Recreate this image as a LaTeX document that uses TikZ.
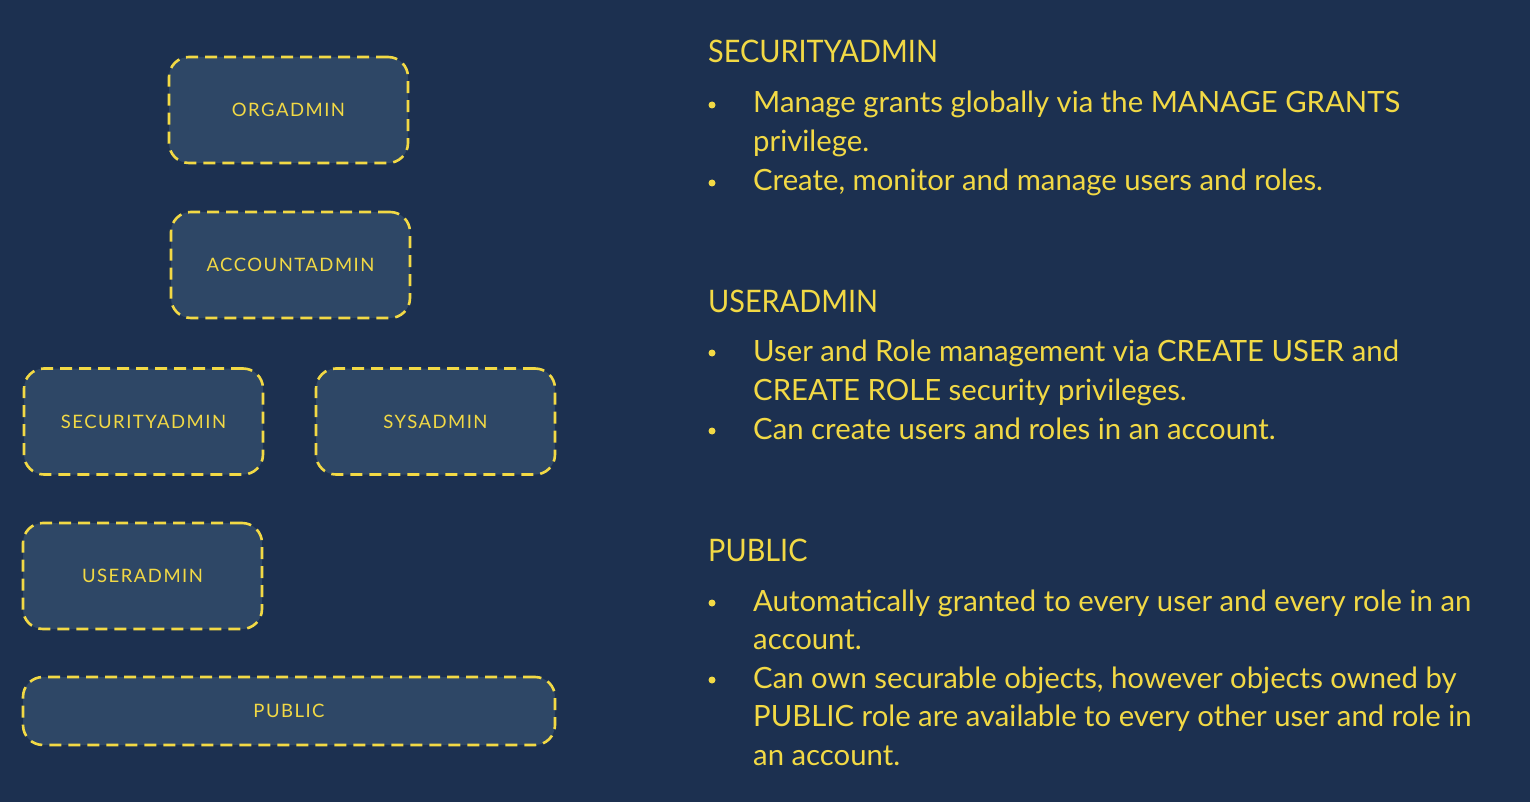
\documentclass[tikz,border=0pt]{standalone}
\usepackage{fontspec}
\newfontfamily\rtfont{Lato}
\newfontfamily\hdfont[FakeStretch=0.93]{Lato}
\newfontfamily\boxfont[LetterSpace=8]{Lato}
\definecolor{bg}{HTML}{1C3050}
\definecolor{boxfill}{HTML}{2E4766}
\definecolor{gold}{HTML}{F2D945}
\begin{document}
\begin{tikzpicture}[x=1pt,y=-1pt,
  role/.style={draw=gold, fill=boxfill, line width=2.6pt, rounded corners=20pt,
    dash pattern=on 12pt off 7pt, text=gold, font=\boxfont\fontsize{18.5}{22}\selectfont,
    minimum width=239pt, minimum height=106pt, inner sep=0pt},
  head/.style={anchor=base west, inner sep=0pt, text=gold, font=\hdfont\fontsize{31}{36}\selectfont},
  body/.style={anchor=base west, inner sep=0pt, text=gold, font=\rtfont\fontsize{29.3}{32}\selectfont},
  dot/.style={circle, fill=gold, inner sep=0pt, minimum size=7pt}]
\fill[bg] (0,0) rectangle (1530,802);
\useasboundingbox (0,0) rectangle (1530,802);
% boxes
\node[role] (org) at (288.5,110) {ORGADMIN};
\node[role] (acc) at (290.5,265) {ACCOUNTADMIN};
\node[role] (sec) at (143.5,421.5) {SECURITYADMIN};
\node[role] (sys) at (435.5,421.5) {SYSADMIN};
\node[role] (usr) at (142.5,576) {USERADMIN};
\node[role, minimum width=532pt, minimum height=68pt] (pub) at (289,711) {PUBLIC};
% right texts
\node[head] (h1) at (708,63) {SECURITYADMIN};
\node[dot] (d11) at (712,105) {};
\node[body] (t11) at (753,113) {Manage grants globally via the MANAGE GRANTS};
\node[body] (t12) at (753,152) {privilege.};
\node[dot] (d12) at (712,183) {};
\node[body] (t13) at (753,191) {Create, monitor and manage users and roles.};

\node[head] (h2) at (708,312) {USERADMIN};
\node[dot] (d21) at (712,353) {};
\node[body] (t21) at (753,361) {User and Role management via CREATE USER and};
\node[body] (t22) at (753,400) {CREATE ROLE security privileges.};
\node[dot] (d22) at (712,431) {};
\node[body] (t23) at (753,439) {Can create users and roles in an account.};

\node[head] (h3) at (708,561) {PUBLIC};
\node[dot] (d31) at (712,603) {};
\node[body] (t31) at (753,611) {Automatically granted to every user and every role in an};
\node[body] (t32) at (753,649) {account.};
\node[dot] (d32) at (712,680) {};
\node[body] (t33) at (753,688) {Can own securable objects, however objects owned by};
\node[body] (t34) at (753,726) {PUBLIC role are available to every other user and role in};
\node[body] (t35) at (753,765) {an account.};
\end{tikzpicture}
\end{document}
